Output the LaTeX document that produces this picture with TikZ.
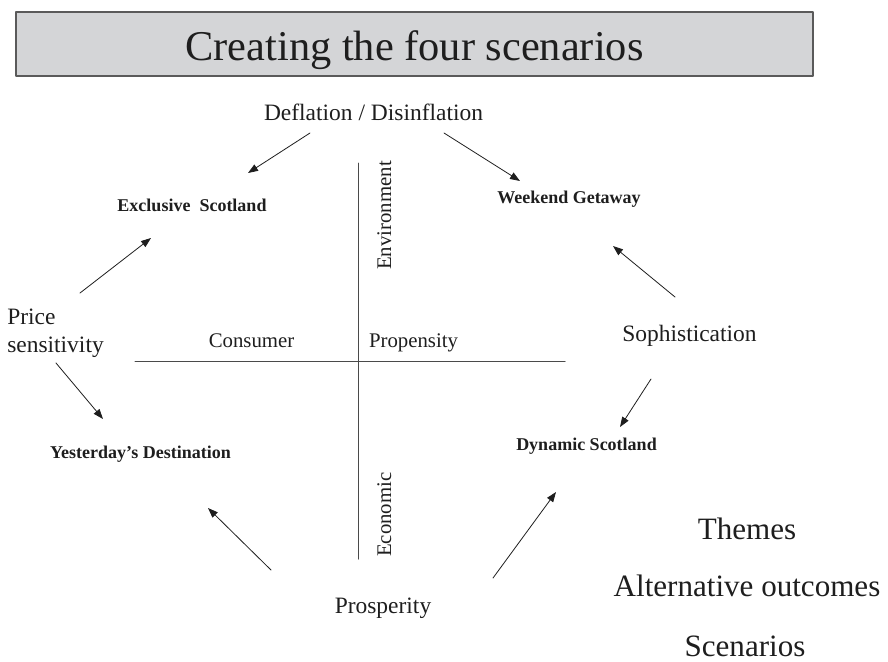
\documentclass[tikz,border=0pt]{standalone}
\usepackage{fontspec}
\setmainfont{Liberation Serif}
\usepackage{tikz}
\usetikzlibrary{arrows.meta}
\definecolor{ink}{HTML}{1E1E1E}
\definecolor{axisgray}{HTML}{4A4A4A}
\definecolor{barfill}{HTML}{D4D5D7}
\definecolor{barline}{HTML}{5A5A5A}
\tikzset{
    every picture/.style={line cap=round,line join=round},
    titlebar/.style={draw=barline,fill=barfill,line width=0.9pt,inner sep=0pt,
      minimum width=597.75pt,minimum height=48pt},
    themelabel/.style={text=ink,inner sep=0pt,anchor=base,
      font=\fontsize{17.6}{21}\selectfont},
    axislabel/.style={text=ink,inner sep=0pt,anchor=base,
      font=\fontsize{15.6}{18}\selectfont},
    scenlabel/.style={text=ink,inner sep=0pt,anchor=base,
      font=\bfseries\fontsize{13.5}{16}\selectfont},
    keylabel/.style={text=ink,inner sep=0pt,anchor=base,
      font=\fontsize{23.3}{28}\selectfont},
    axisline/.style={draw=axisgray,line width=0.75pt},
    driftarrow/.style={-{Triangle[length=7.5pt,width=5.5pt]},draw=ink,
      line width=0.6pt}
}

\begin{document}
\begin{tikzpicture}[x=0.75pt,y=-0.75pt]
  \useasboundingbox (0,0) rectangle (888,661);
  \node[titlebar] (bar) at (414.5,44) {};
  \node[anchor=base,inner sep=0pt,text=ink,font=\fontsize{31.8}{38}\selectfont]
    (title) at (414.5,60) {Creating the four scenarios};

  % the two axes
  \coordinate (axN) at (358,163);
  \coordinate (axS) at (358,559);
  \coordinate (axW) at (135,361);
  \coordinate (axE) at (565,361);
  \draw[axisline] (axN)--(axS);
  \draw[axisline] (axW)--(axE);
  \node[axislabel] (cons) at (251.5,347) {Consumer};
  \node[axislabel] (prop) at (413.5,347) {Propensity};
  \node[axislabel,rotate=90,anchor=base west] (env) at (391,270) {Environment};
  \node[axislabel,rotate=90,anchor=base west] (econ) at (391,557) {Economic};

  % themes round the axes
  \node[themelabel] (defl) at (373.5,120) {Deflation / Disinflation};
  \node[themelabel,anchor=west,align=left] (price) at (7,333.5) {Price\\sensitivity};
  \node[themelabel] (soph) at (689.5,341) {Sophistication};
  \node[themelabel] (prosp) at (383,613) {Prosperity};

  % scenarios
  \node[scenlabel] (excl) at (192,211) {Exclusive\ \ Scotland};
  \node[scenlabel] (week) at (569,203) {Weekend Getaway};
  \node[scenlabel] (yest) at (140.5,458) {Yesterday’s Destination};
  \node[scenlabel] (dyn) at (586.5,450) {Dynamic Scotland};

  \node[keylabel] (themes) at (747,539) {Themes};
  \node[keylabel] (alt) at (747,596) {Alternative outcomes};
  \node[keylabel] (scen) at (745,656) {Scenarios};

  % arrow ends
  \coordinate (defl-l) at (310,133);
  \coordinate (defl-r) at (444,133);
  \coordinate (excl-t) at (248,173);
  \coordinate (week-t) at (520,181);
  \coordinate (price-u) at (80,293);
  \coordinate (price-d) at (56,363);
  \coordinate (excl-b) at (151,238);
  \coordinate (yest-t) at (103,419);
  \coordinate (soph-u) at (675,297);
  \coordinate (soph-d) at (651,379);
  \coordinate (week-b) at (613,246);
  \coordinate (dyn-t) at (620,427);
  \coordinate (prosp-l) at (271,570);
  \coordinate (prosp-r) at (493,578);
  \coordinate (yest-b) at (208,508);
  \coordinate (dyn-b) at (556,492);

  \draw[driftarrow] (defl-l)--(excl-t);
  \draw[driftarrow] (defl-r)--(week-t);
  \draw[driftarrow] (price-u)--(excl-b);
  \draw[driftarrow] (price-d)--(yest-t);
  \draw[driftarrow] (soph-u)--(week-b);
  \draw[driftarrow] (soph-d)--(dyn-t);
  \draw[driftarrow] (prosp-l)--(yest-b);
  \draw[driftarrow] (prosp-r)--(dyn-b);
\end{tikzpicture}
\end{document}
